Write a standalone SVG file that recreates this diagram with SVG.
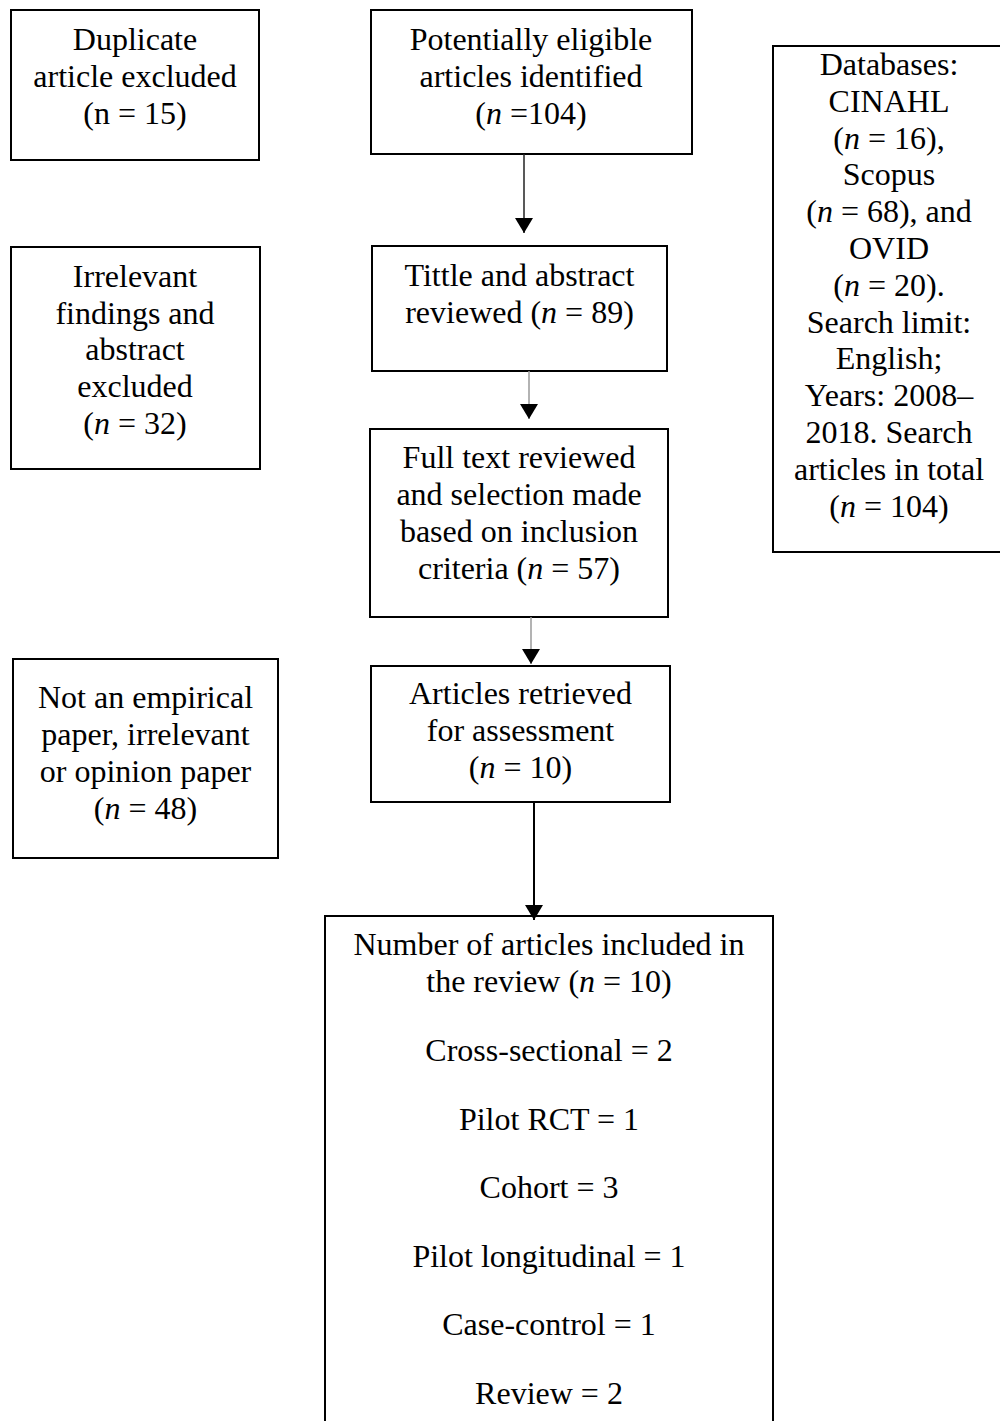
<svg xmlns="http://www.w3.org/2000/svg" width="1000" height="1421" viewBox="0 0 1000 1421">
<style>
.box{fill:#fff;stroke:#000;stroke-width:2}
text{font-family:"Liberation Serif","Times New Roman",serif;font-size:32px;fill:#000;text-anchor:middle}
.i{font-style:italic}
.dark{stroke:#222;stroke-width:1.5;fill:none}
.gray{stroke:#9a9a9a;stroke-width:1.5;fill:none}
.blk{stroke:#000;stroke-width:2;fill:none}
</style>
<defs>
<marker id="ah" markerUnits="userSpaceOnUse" markerWidth="16" markerHeight="18" refX="15" refY="9" orient="auto" viewBox="0 0 16 18">
<path d="M0,0 L15,9 L0,18 z" fill="#000"/>
</marker>
</defs>
<rect width="1000" height="1421" fill="#fff"/>
<g id="dup">
<rect class="box" x="11" y="10" width="248" height="150"/>
<text x="135" y="50">Duplicate</text>
<text x="135" y="87">article excluded</text>
<text x="135" y="124">(n = 15)</text>
</g>
<g id="potential">
<rect class="box" x="371" y="10" width="321" height="144"/>
<text x="531" y="50">Potentially eligible</text>
<text x="531" y="87">articles identified</text>
<text x="531" y="124">(<tspan class="i">n</tspan> =104)</text>
</g>
<g id="databases">
<rect class="box" x="773" y="46" width="240" height="506"/>
<text x="889" y="75">Databases:</text>
<text x="889" y="112">CINAHL</text>
<text x="889" y="149">(<tspan class="i">n</tspan> = 16),</text>
<text x="889" y="185">Scopus</text>
<text x="889" y="222">(<tspan class="i">n</tspan> = 68), and</text>
<text x="889" y="259">OVID</text>
<text x="889" y="296">(<tspan class="i">n</tspan> = 20).</text>
<text x="889" y="333">Search limit:</text>
<text x="889" y="369">English;</text>
<text x="889" y="406">Years: 2008–</text>
<text x="889" y="443">2018. Search</text>
<text x="889" y="480">articles in total</text>
<text x="889" y="517">(<tspan class="i">n</tspan> = 104)</text>
</g>
<g id="irrelevant">
<rect class="box" x="11" y="247" width="249" height="222"/>
<text x="135" y="287">Irrelevant</text>
<text x="135" y="324">findings and</text>
<text x="135" y="360">abstract</text>
<text x="135" y="397">excluded</text>
<text x="135" y="434">(<tspan class="i">n</tspan> = 32)</text>
</g>
<g id="title">
<rect class="box" x="372" y="246" width="295" height="125"/>
<text x="519.5" y="286">Tittle and abstract</text>
<text x="519.5" y="323">reviewed (<tspan class="i">n</tspan> = 89)</text>
</g>
<g id="fulltext">
<rect class="box" x="370" y="429" width="298" height="188"/>
<text x="519" y="468">Full text reviewed</text>
<text x="519" y="505">and selection made</text>
<text x="519" y="542">based on inclusion</text>
<text x="519" y="579">criteria (<tspan class="i">n</tspan> = 57)</text>
</g>
<g id="notempirical">
<rect class="box" x="13" y="659" width="265" height="199"/>
<text x="145.5" y="708">Not an empirical</text>
<text x="145.5" y="745">paper, irrelevant</text>
<text x="145.5" y="782">or opinion paper</text>
<text x="145.5" y="819">(<tspan class="i">n</tspan> = 48)</text>
</g>
<g id="retrieved">
<rect class="box" x="371" y="666" width="299" height="136"/>
<text x="520.5" y="704">Articles retrieved</text>
<text x="520.5" y="741">for assessment</text>
<text x="520.5" y="778">(<tspan class="i">n</tspan> = 10)</text>
</g>
<g id="included">
<rect class="box" x="325" y="916" width="448" height="520"/>
<text x="549" y="955">Number of articles included in</text>
<text x="549" y="992">the review (<tspan class="i">n</tspan> = 10)</text>
<text x="549" y="1061">Cross-sectional = 2</text>
<text x="549" y="1130">Pilot RCT = 1</text>
<text x="549" y="1198">Cohort = 3</text>
<text x="549" y="1267">Pilot longitudinal = 1</text>
<text x="549" y="1335">Case-control = 1</text>
<text x="549" y="1404">Review = 2</text>
</g>
<g id="connectors">
<line class="dark" x1="524" y1="154" x2="524" y2="233" marker-end="url(#ah)"/>
<line class="gray" x1="529" y1="371" x2="529" y2="419" marker-end="url(#ah)"/>
<line class="gray" x1="531" y1="617" x2="531" y2="664" marker-end="url(#ah)"/>
<line class="blk" x1="534" y1="802" x2="534" y2="920" marker-end="url(#ah)"/>
</g>
</svg>
